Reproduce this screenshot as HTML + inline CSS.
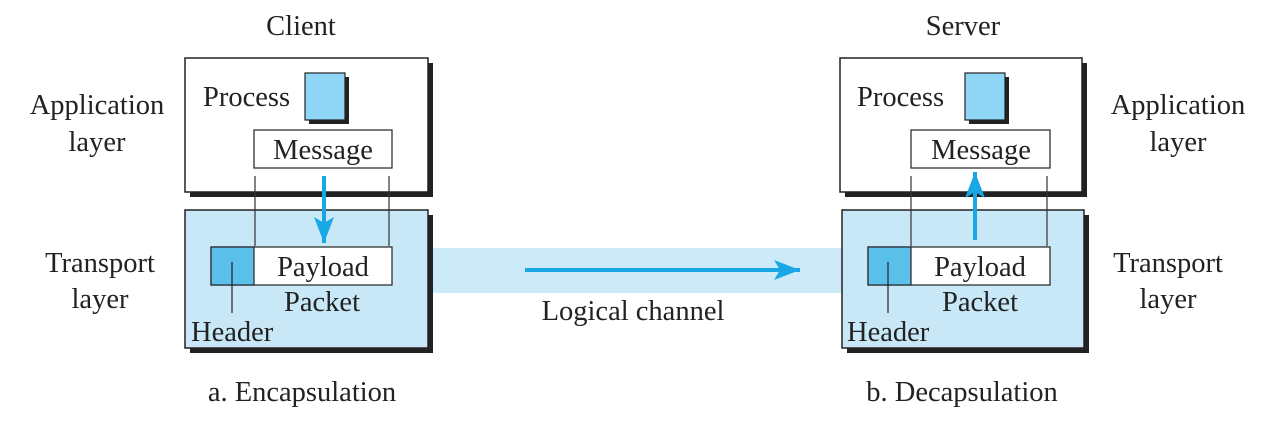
<!DOCTYPE html>
<html><head><style>body{margin:0;background:#fff}svg{display:block}text{font-family:"Liberation Serif",serif;font-size:28.5px;fill:#222}</style></head>
<body>
<svg width="1280" height="432" viewBox="0 0 1280 432">
<defs>
<marker id="ah2" markerWidth="26" markerHeight="20" refX="26" refY="10" orient="auto" markerUnits="userSpaceOnUse"><path d="M0,0 L26,10 L0,20 L6,10 Z" fill="#1aa7e6"/></marker>
</defs>
<rect x="428" y="248" width="414" height="45" fill="#cdeaf8"/>
<line x1="525" y1="270" x2="800" y2="270" stroke="#1aa7e6" stroke-width="4" marker-end="url(#ah2)"/>
<text x="633" y="320" text-anchor="middle">Logical channel</text>

<text x="301" y="35" text-anchor="middle">Client</text>
<text x="97" y="114" text-anchor="middle">Application</text>
<text x="97" y="151" text-anchor="middle">layer</text>
<text x="100" y="272" text-anchor="middle">Transport</text>
<text x="100" y="308" text-anchor="middle">layer</text>
<rect x="190" y="63" width="243" height="134" fill="#222"/>
<rect x="185" y="58" width="243" height="134" fill="#fff" stroke="#222" stroke-width="1.5"/>
<rect x="309" y="77" width="40" height="47" fill="#222"/>
<rect x="305" y="73" width="40" height="47" fill="#8fd6f6" stroke="#222" stroke-width="1.2"/>
<text x="203" y="106">Process</text>
<rect x="254" y="130" width="138" height="38" fill="#fff" stroke="#222" stroke-width="1.2"/>
<text x="323" y="159" text-anchor="middle">Message</text>
<rect x="190" y="215" width="243" height="138" fill="#222"/>
<rect x="185" y="210" width="243" height="138" fill="#c8e8f8" stroke="#222" stroke-width="1.5"/>
<line x1="255" y1="176" x2="255" y2="246" stroke="#333" stroke-width="1.2"/>
<line x1="389" y1="176" x2="389" y2="246" stroke="#333" stroke-width="1.2"/>
<line x1="324" y1="176" x2="324" y2="243" stroke="#1aa7e6" stroke-width="4" marker-end="url(#ah2)"/>
<rect x="211" y="247" width="181" height="38" fill="#fff" stroke="#222" stroke-width="1.2"/>
<rect x="211" y="247" width="43" height="38" fill="#5bc0ea" stroke="#222" stroke-width="1.2"/>
<line x1="232" y1="262" x2="232" y2="313" stroke="#222" stroke-width="1.2"/>
<text x="323" y="276" text-anchor="middle">Payload</text>
<text x="322" y="311" text-anchor="middle">Packet</text>
<text x="191" y="341">Header</text>
<text x="302" y="401" text-anchor="middle">a. Encapsulation</text>

<text x="963" y="35" text-anchor="middle">Server</text>
<text x="1178" y="114" text-anchor="middle">Application</text>
<text x="1178" y="151" text-anchor="middle">layer</text>
<text x="1168" y="272" text-anchor="middle">Transport</text>
<text x="1168" y="308" text-anchor="middle">layer</text>
<rect x="845" y="63" width="242" height="134" fill="#222"/>
<rect x="840" y="58" width="242" height="134" fill="#fff" stroke="#222" stroke-width="1.5"/>
<rect x="969" y="77" width="40" height="47" fill="#222"/>
<rect x="965" y="73" width="40" height="47" fill="#8fd6f6" stroke="#222" stroke-width="1.2"/>
<text x="857" y="106">Process</text>
<rect x="911" y="130" width="139" height="38" fill="#fff" stroke="#222" stroke-width="1.2"/>
<text x="981" y="159" text-anchor="middle">Message</text>
<rect x="847" y="215" width="242" height="138" fill="#222"/>
<rect x="842" y="210" width="242" height="138" fill="#c8e8f8" stroke="#222" stroke-width="1.5"/>
<line x1="911" y1="176" x2="911" y2="246" stroke="#333" stroke-width="1.2"/>
<line x1="1047" y1="176" x2="1047" y2="246" stroke="#333" stroke-width="1.2"/>
<line x1="975" y1="240" x2="975" y2="172" stroke="#1aa7e6" stroke-width="4" marker-end="url(#ah2)"/>
<rect x="868" y="247" width="182" height="38" fill="#fff" stroke="#222" stroke-width="1.2"/>
<rect x="868" y="247" width="43" height="38" fill="#5bc0ea" stroke="#222" stroke-width="1.2"/>
<line x1="888" y1="262" x2="888" y2="313" stroke="#222" stroke-width="1.2"/>
<text x="980" y="276" text-anchor="middle">Payload</text>
<text x="980" y="311" text-anchor="middle">Packet</text>
<text x="847" y="341">Header</text>
<text x="962" y="401" text-anchor="middle">b. Decapsulation</text>
</svg>
</body></html>
